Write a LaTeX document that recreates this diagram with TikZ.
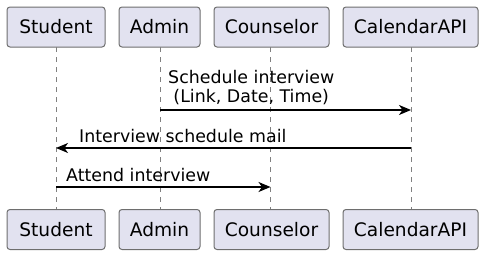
\documentclass[tikz,border=0pt]{standalone}
\usepackage{fontspec}
\setmainfont{DejaVu Sans}
\usetikzlibrary{arrows.meta}
\definecolor{partfill}{HTML}{E2E2F0}
\definecolor{partline}{HTML}{6E6E6E}
\definecolor{lifeline}{HTML}{808080}
\begin{document}
\begin{tikzpicture}[x=1pt,y=-1pt,
  participant/.style={draw=partline, fill=partfill, rounded corners=3pt,
    line width=1pt, minimum height=40pt, inner sep=0pt,
    font=\fontsize{18.6}{22}\selectfont},
  life/.style={draw=lifeline, line width=0.8pt, dash pattern=on 5pt off 5pt},
  msg/.style={draw=black, line width=1.2pt,
    -{Stealth[length=12pt, width=10pt, inset=3.5pt]}},
  msgtext/.style={font=\fontsize{17.4}{19}\selectfont, inner sep=0pt}]
\useasboundingbox (0,0) rectangle (485,257);

% participants, top row
\node[participant, minimum width=98pt]  (stu1) at (56,27)    {Student};
\node[participant, minimum width=81pt]  (adm1) at (159.5,27) {Admin};
\node[participant, minimum width=115pt] (cou1) at (271.5,27) {Counselor};
\node[participant, minimum width=135pt] (cal1) at (410.5,27) {CalendarAPI};

% participants, bottom row
\node[participant, minimum width=98pt]  (stu2) at (56,229.5)    {Student};
\node[participant, minimum width=81pt]  (adm2) at (159.5,229.5) {Admin};
\node[participant, minimum width=115pt] (cou2) at (271.5,229.5) {Counselor};
\node[participant, minimum width=135pt] (cal2) at (410.5,229.5) {CalendarAPI};

% lifelines
\coordinate (stuT) at (56,47);    \coordinate (stuB) at (56,209);
\coordinate (admT) at (160,47);   \coordinate (admB) at (160,209);
\coordinate (couT) at (270.5,47); \coordinate (couB) at (270.5,209);
\coordinate (calT) at (411,47);   \coordinate (calB) at (411,209);
\draw[life] (stuT) -- (stuB);
\draw[life] (admT) -- (admB);
\draw[life] (couT) -- (couB);
\draw[life] (calT) -- (calB);

% message endpoints on the lifelines
\coordinate (m1a) at (160,110);  \coordinate (m1b) at (411,110);
\coordinate (m2a) at (411,148);  \coordinate (m2b) at (56,148);
\coordinate (m3a) at (56,187);   \coordinate (m3b) at (270.5,187);

% messages
\draw[msg] (m1a) -- (m1b);
\node[msgtext, align=center, anchor=south west] (t1) at (168,105)
  {Schedule interview\\(Link, Date, Time)};

\draw[msg] (m2a) -- (m2b);
\node[msgtext, anchor=south west] (t2) at (79,143) {Interview schedule mail};

\draw[msg] (m3a) -- (m3b);
\node[msgtext, anchor=south west] (t3) at (66,182) {Attend interview};
\end{tikzpicture}
\end{document}
